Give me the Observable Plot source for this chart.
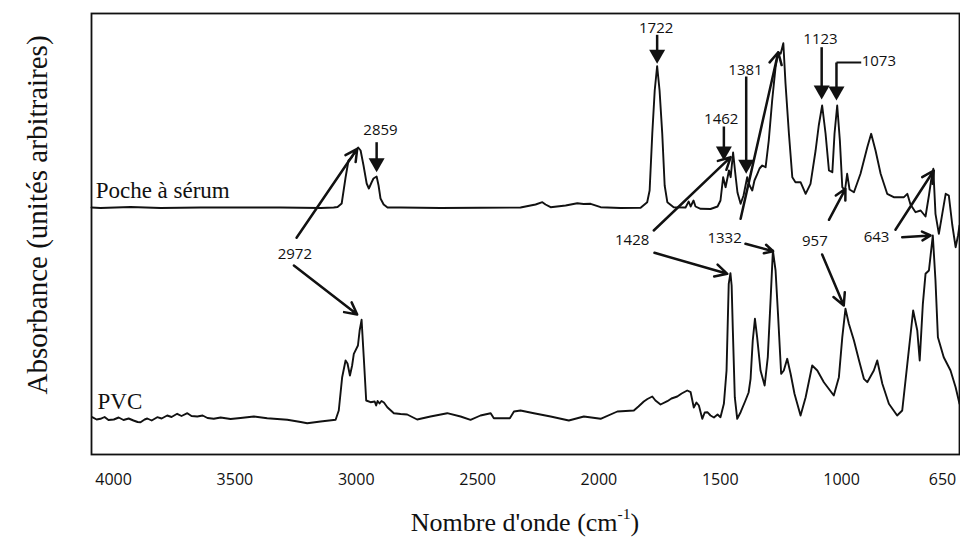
<!DOCTYPE html>
<html><head><meta charset="utf-8">
<script src="https://cdn.jsdelivr.net/npm/d3@7"></script>
<script src="https://cdn.jsdelivr.net/npm/@observablehq/plot@0.6"></script>
<style>
body{margin:0;background:#fff}
#chart svg{display:block}
#xtitle{margin-left:91px;width:868px;height:47px;line-height:46px;text-align:center;font-family:'Liberation Serif','DejaVu Serif',serif;font-size:26px;color:#111}
#xtitle sup{font-size:60%;vertical-align:0;position:relative;top:-0.75em}
</style>
</head><body><div id="chart"></div><div id="xtitle">Nombre d'onde (cm<sup>-1</sup>)</div>
<script>
// Spectrum: "Poche à sérum" (wavenumber cm-1, arbitrary absorbance incl. offset)
const pocheWavenumber = [4091,4054,3930,3806,3641,3477,3312,3147,3093,3077,3060,3044,3032,3019,3007,2992,2982,2970,2957,2948,2937,2929,2916,2908,2900,2887,2871,2817,2653,2488,2323,2261,2233,2220,2199,2137,2089,2063,2034,1993,1911,1828,1801,1791,1780,1770,1760,1750,1739,1729,1718,1692,1643,1630,1622,1610,1602,1581,1540,1511,1499,1488,1478,1464,1457,1447,1437,1429,1416,1404,1389,1379,1368,1359,1347,1338,1327,1313,1300,1286,1272,1261,1251,1240,1231,1217,1203,1190,1169,1148,1128,1107,1094,1080,1066,1052,1038,1029,1018,1007,997,986,977,967,949,922,894,878,860,839,812,785,743,729,716,695,674,654,640,631,622,613,599,585,571,558,544,530,520,514];
const pocheAbsorbance = [247,246.5,247.5,246.5,247,247,247,246.5,247,247.5,251,277,294,297,302,307,304,289,271,266,272,276,278,269,256,250,247,247,246.5,246.7,247,250,252.3,250,247.3,249,251.3,250.5,250.7,247.3,246.5,246.7,252.3,264,321,364,388.3,364,321,269,252.3,247.3,247,253,248,254,248,245.7,245.5,248,254,277.3,267.3,284,277.3,302,279,262,250.7,259,277.3,269,264,274,280.7,286,289,287.3,314,354,387.3,402.3,400.7,411.3,371,321,277.3,272.3,272.3,260.7,270.7,304,329,349,321,284,282.3,321,349,314,267.3,264,280.7,265,262.3,280.7,307.3,320.7,304,280.7,260.7,257.3,257.3,260.7,250,242.3,244,238,259,274,285.7,240.7,220.7,240.7,260.7,259,230,207.3,219,229];

// Spectrum: "PVC"
const pvcWavenumber = [4088,4070,4054,4037,4021,3999,3979,3959,3938,3918,3901,3889,3872,3861,3843,3820,3802,3779,3761,3738,3720,3696,3679,3655,3633,3613,3587,3559,3518,3477,3422,3367,3284,3229,3202,3147,3085,3072,3058,3044,3036,3026,3017,3010,2993,2986,2978,2969,2959,2941,2924,2918,2912,2904,2896,2886,2872,2845,2817,2790,2749,2694,2625,2570,2529,2488,2446,2433,2405,2367,2350,2323,2268,2199,2124,2062,1993,1924,1890,1856,1837,1815,1800,1780,1767,1746,1718,1701,1677,1659,1636,1622,1609,1598,1588,1574,1564,1553,1540,1526,1511,1499,1485,1474,1465,1458,1453,1448,1440,1430,1416,1396,1383,1375,1366,1357,1348,1334,1317,1304,1292,1283,1272,1262,1249,1238,1224,1210,1194,1169,1148,1121,1100,1073,1032,1011,997,984,970,949,928,908,894,867,853,832,805,771,750,729,705,688,678,665,654,640,624,613,603,579,551,530,514];
const pvcAbsorbance = [37.3,35,35.7,37.5,34.5,35,37,34.5,36,34,32.5,32.3,35,36,34,37.3,36,39,37.5,40.7,38.5,41.3,38.5,38,39,36.5,35.7,37,35.5,36.5,38,36.3,34.7,32.5,31.3,33,34.7,44,77.3,94,91,79,89,100.7,109,124,134.7,97.3,54,52.3,53,49,53.5,51,53.5,52,47.3,41.3,40.5,40,35,38,41.3,38,34.7,39,41.3,36.3,36.3,36.3,43,44,41.3,38,34,38,35.7,43,43.5,44,48,53,55.5,58,54,50,53.3,56,58,61,64,62.3,47,52,49,35.7,42,42.3,39,37,40,37.3,50.7,84,170.7,181.3,169,124,57.3,35.7,42.3,54,62,75.7,114,135.7,117.3,84,69,97.3,157.3,204,184,140.7,80.7,84,95.7,80.7,60.7,39,57.3,89,84,72.3,59,77.3,117.3,145.7,130.7,114,94,75.7,72.3,84,94,70.7,50.7,39,44,90.7,144,124,94,150.7,180.7,184,219,174,117.3,97.3,84,67.3,50.7];

// Axis ticks
const xTicks = [4000, 3500, 3000, 2500, 2000, 1500, 1000];
const xTickEnd = [650];

// Series labels
const seriesNames = ["Poche à sérum", "PVC"];
const seriesLabelX = [4074, 4066];
const seriesLabelY = [263.5, 53];

// Peaks marked with filled (down) arrows
const downLabels = ["2859", "1722", "1462", "1381", "1123", "1073"];
const downLabelX = [2900, 1764, 1496, 1396, 1087, 917];
const downLabelY = [324, 426.7, 335.7, 384, 415, 393];
const downArrowX = [2916, 1760, 1485, 1393, 1082, 1021];
const downArrowTop = [312.3, 419.7, 328, 378, 407.3, 392];
const downArrowTip = [282.3, 390.7, 294, 280.7, 355, 354];
// leader elbow of the 1073 label
const leaderX1 = [1021], leaderX2 = [919], leaderY = [392];

// Peaks marked with open arrows (label + arrows to both spectra)
const openLabels = ["2972", "1428", "1332", "957", "643"];
const openLabelX = [3253, 1863, 1482, 1110, 856];
const openLabelY = [200, 214, 216.7, 213.3, 217.3];
const arrowX1 = [3246, 3257, 1774, 1771, 1416, 1396, 1052, 1080, 778, 750];
const arrowY1 = [216.7, 189, 224, 201.7, 235.7, 210.7, 234.7, 200, 224.7, 217.3];
const arrowX2 = [2996, 2996, 1457, 1471, 1261, 1282, 984, 991, 620, 633];
const arrowY2 = [305.7, 140, 297.3, 180.7, 402.3, 203.3, 265.7, 149, 284, 219];

const poche = pocheWavenumber.map((w, i) => ({w, a: pocheAbsorbance[i]}));
const pvc = pvcWavenumber.map((w, i) => ({w, a: pvcAbsorbance[i]}));
const idx = (arr) => arr.map((_, i) => i);
const downCentered = idx(downLabels).filter((i) => downLabels[i] !== "1073");
const downLeft = idx(downLabels).filter((i) => downLabels[i] === "1073");

const sans = "'Open Sans', 'DejaVu Sans', sans-serif";
const serif = "'Liberation Serif', 'DejaVu Serif', serif";

const downTriangle = {
  draw(ctx) { ctx.moveTo(0, 0); ctx.lineTo(-8, -14); ctx.lineTo(8, -14); ctx.closePath(); }
};

const chart = Plot.plot({
  width: 960,
  height: 500,
  marginLeft: 91,
  marginRight: 1,
  marginTop: 13,
  marginBottom: 46,
  x: {domain: [4091, 514], axis: null},
  y: {domain: [0, 441], axis: null},
  marks: [
    Plot.frame({stroke: "#111", strokeWidth: 1.8}),
    Plot.line(poche, {x: "w", y: "a", stroke: "#111", strokeWidth: 1.9}),
    Plot.line(pvc, {x: "w", y: "a", stroke: "#111", strokeWidth: 1.9}),
    Plot.axisX(xTicks, {tickSize: 0, tickPadding: 19, fontSize: 16, fontFamily: sans, fill: "#111", label: null, tickFormat: (d) => `${d}`}),
    Plot.axisX(xTickEnd, {tickSize: 0, tickPadding: 19, fontSize: 16, fontFamily: sans, fill: "#111", label: null, tickFormat: (d) => `${d}`, dx: 16}),
    Plot.text(["Absorbance (unités arbitraires)"], {frameAnchor: "left", textAnchor: "middle", dx: -54, dy: -19, rotate: -90, fontSize: 29, fontFamily: serif, fill: "#111"}),
    Plot.text(idx(seriesNames), {x: (i) => seriesLabelX[i], y: (i) => seriesLabelY[i], text: (i) => seriesNames[i], textAnchor: "start", fontSize: 23, fontFamily: serif, fill: "#111"}),
    // filled arrows
    Plot.link(idx(downLabels), {x1: (i) => downArrowX[i], x2: (i) => downArrowX[i], y1: (i) => downArrowTop[i], y2: (i) => downArrowTip[i] + 6, stroke: "#111", strokeWidth: 2.5}),
    Plot.link(idx(leaderX1), {x1: (i) => leaderX1[i], x2: (i) => leaderX2[i], y1: (i) => leaderY[i], y2: (i) => leaderY[i], stroke: "#111", strokeWidth: 2}),
    Plot.dot(idx(downLabels), {x: (i) => downArrowX[i], y: (i) => downArrowTip[i], symbol: downTriangle, fill: "#111", stroke: "none"}),
    Plot.text(downCentered, {x: (i) => downLabelX[i], y: (i) => downLabelY[i], text: (i) => downLabels[i], textAnchor: "middle", fontSize: 15, fontFamily: sans, fill: "#111"}),
    Plot.text(downLeft, {x: (i) => downLabelX[i], y: (i) => downLabelY[i], text: (i) => downLabels[i], textAnchor: "start", fontSize: 15, fontFamily: sans, fill: "#111"}),
    // open arrows
    Plot.arrow(idx(arrowX1), {x1: (i) => arrowX1[i], y1: (i) => arrowY1[i], x2: (i) => arrowX2[i], y2: (i) => arrowY2[i], stroke: "#111", strokeWidth: 2.5, headAngle: 55}),
    Plot.text(idx(openLabels), {x: (i) => openLabelX[i], y: (i) => openLabelY[i], text: (i) => openLabels[i], fontSize: 15, fontFamily: sans, fill: "#111"})
  ]
});
document.getElementById("chart").append(chart);
</script>
</body></html>
